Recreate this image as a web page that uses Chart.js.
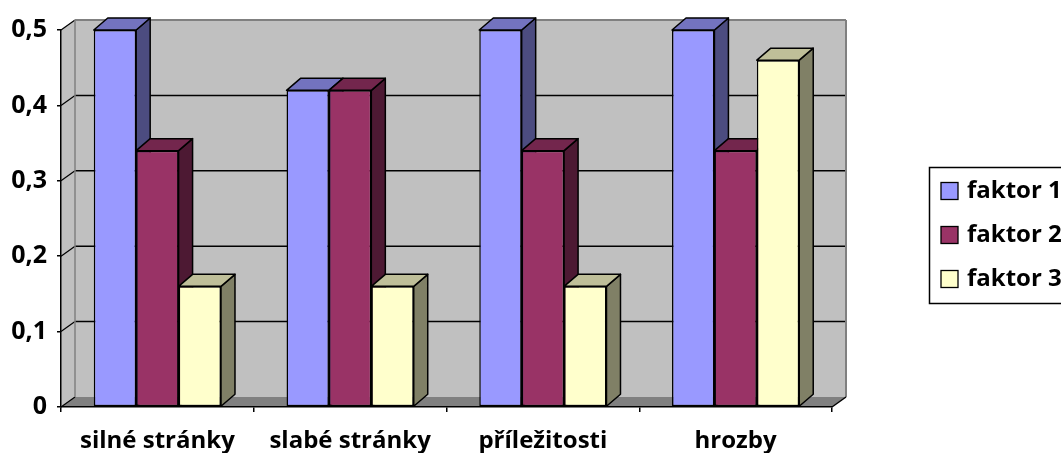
<!DOCTYPE html>
<html>
<head>
<meta charset="utf-8">
<script src="https://cdn.jsdelivr.net/npm/chart.js@4/dist/chart.umd.min.js"></script>
<style>
  html, body { margin: 0; padding: 0; background: #fff; }
  canvas { display: block; }
</style>
</head>
<body>
<canvas id="swotChart" width="1061" height="453"></canvas>
<script>
// hodnoty faktorů pro jednotlivé části SWOT
var categories = ['silné stránky', 'slabé stránky', 'příležitosti', 'hrozby'];
var seriesNames = ['faktor 1', 'faktor 2', 'faktor 3'];
var faktor1 = [0.5, 0.42, 0.5, 0.5];
var faktor2 = [0.34, 0.42, 0.34, 0.34];
var faktor3 = [0.16, 0.16, 0.16, 0.46];
var yTickLabels = ['0', '0,1', '0,2', '0,3', '0,4', '0,5'];

var FONT = '"Open Sans", Lato, Calibri, sans-serif';

// barvy: přední stěna, horní stěna, boční stěna
var shades = [
  { front: '#9999ff', top: '#7373bf', side: '#4c4c80' },
  { front: '#993366', top: '#73264d', side: '#4d1933' },
  { front: '#ffffcc', top: '#bfbf99', side: '#808066' }
];

// hloubka sloupců a stěn (3D efekt)
var BAR_DX = 14, BAR_DY = 12;
var WALL_DX = 14, WALL_DY = 10;

function poly(ctx, pts, fill, stroke, lw) {
  ctx.beginPath();
  ctx.moveTo(pts[0][0], pts[0][1]);
  for (var i = 1; i < pts.length; i++) ctx.lineTo(pts[i][0], pts[i][1]);
  ctx.closePath();
  if (fill) { ctx.fillStyle = fill; ctx.fill(); }
  if (stroke) { ctx.strokeStyle = stroke; ctx.lineWidth = lw || 1; ctx.stroke(); }
}

function line(ctx, x1, y1, x2, y2, color, lw) {
  ctx.beginPath();
  ctx.moveTo(x1, y1);
  ctx.lineTo(x2, y2);
  ctx.strokeStyle = color;
  ctx.lineWidth = lw;
  ctx.stroke();
}

var box3d = {
  id: 'box3d',
  beforeDraw: function (chart) {
    var ctx = chart.ctx, a = chart.chartArea, ys = chart.scales.y;
    var L = a.left, R = a.right, T = a.top, B = a.bottom;
    ctx.save();
    // zadní stěna
    ctx.fillStyle = '#c0c0c0';
    ctx.fillRect(L + WALL_DX, T - WALL_DY, R - L, B - T);
    // levá stěna
    poly(ctx, [[L, T], [L + WALL_DX, T - WALL_DY], [L + WALL_DX, B - WALL_DY], [L, B]], '#c0c0c0');
    // podlaha
    poly(ctx, [[L, B], [R, B], [R + WALL_DX, B - WALL_DY], [L + WALL_DX, B - WALL_DY]], '#808080');
    // mřížka na stěnách
    ys.ticks.forEach(function (t) {
      var py = ys.getPixelForValue(t.value);
      if (t.value > 0 && t.value < ys.max) {
        line(ctx, L + WALL_DX, py - WALL_DY, R + WALL_DX, py - WALL_DY, '#000', 1.5);
      }
      line(ctx, L, py, L + WALL_DX, py - WALL_DY, '#000', 1.2);
    });
    // okraje stěn
    line(ctx, L + WALL_DX, T - WALL_DY, R + WALL_DX, T - WALL_DY, '#808080', 2);
    line(ctx, R + WALL_DX, T - WALL_DY, R + WALL_DX, B - WALL_DY, '#808080', 2);
    line(ctx, L + WALL_DX, T - WALL_DY, L + WALL_DX, B - WALL_DY, '#808080', 1.5);
    line(ctx, R, B, R + WALL_DX, B - WALL_DY, '#000', 1.5);
    ctx.restore();
  },
  beforeDatasetsDraw: function (chart) {
    var ctx = chart.ctx;
    ctx.save();
    ctx.lineJoin = 'round';
    var n = chart.data.labels.length;
    for (var i = 0; i < n; i++) {
      chart.data.datasets.forEach(function (ds, d) {
        var bar = chart.getDatasetMeta(d).data[i];
        var p = bar.getProps(['x', 'y', 'base', 'width'], true);
        var left = p.x - p.width / 2, right = p.x + p.width / 2;
        var top = p.y, base = p.base;
        var c = shades[d];
        // boční stěna
        poly(ctx, [[right, top], [right + BAR_DX, top - BAR_DY], [right + BAR_DX, base - BAR_DY], [right, base]],
          c.side, '#000', 1.5);
        // horní stěna
        poly(ctx, [[left, top], [right, top], [right + BAR_DX, top - BAR_DY], [left + BAR_DX, top - BAR_DY]],
          c.top, '#000', 1.5);
      });
    }
    ctx.restore();
  },
  afterDraw: function (chart) {
    // legenda vpravo
    var ctx = chart.ctx;
    ctx.save();
    ctx.strokeStyle = '#000';
    ctx.lineWidth = 1.5;
    ctx.strokeRect(929.5, 167.5, 160, 136);
    ctx.font = 'bold 24px ' + FONT;
    ctx.textBaseline = 'middle';
    ctx.textAlign = 'left';
    var rows = [191, 235, 279];
    chart.data.datasets.forEach(function (ds, d) {
      var cy = rows[d];
      ctx.fillStyle = ds.backgroundColor;
      ctx.fillRect(941, cy - 8.5, 17, 17);
      ctx.lineWidth = 1.3;
      ctx.strokeRect(941, cy - 8.5, 17, 17);
      ctx.fillStyle = '#000';
      ctx.fillText(ds.label, 967, cy);
    });
    ctx.restore();
  }
};

var seriesValues = [faktor1, faktor2, faktor3];

new Chart(document.getElementById('swotChart').getContext('2d'), {
  type: 'bar',
  data: {
    labels: categories,
    datasets: seriesValues.map(function (vals, d) {
      return {
        label: seriesNames[d],
        data: vals,
        backgroundColor: shades[d].front,
        borderColor: '#000',
        borderWidth: 1.5,
        borderSkipped: false,
        categoryPercentage: 0.66,
        barPercentage: 1.0
      };
    })
  },
  options: {
    responsive: false,
    animation: false,
    devicePixelRatio: 1,
    layout: { padding: { left: 0, top: 30, right: 229, bottom: 0 } },
    plugins: {
      legend: { display: false },
      tooltip: { enabled: false }
    },
    scales: {
      x: {
        afterFit: function (s) { s.height = 46; },
        grid: { display: true, drawOnChartArea: false, drawTicks: true, tickLength: 5, color: '#000', lineWidth: 1.5 },
        border: { display: true, color: '#000', width: 1.5 },
        ticks: { color: '#000', font: { family: FONT, size: 24, weight: 'bold' }, padding: 15, maxRotation: 0 }
      },
      y: {
        min: 0,
        max: 0.5,
        afterFit: function (s) { s.width = 61; },
        grid: { display: true, drawOnChartArea: false, drawTicks: true, tickLength: 4, color: '#000', lineWidth: 1.5 },
        border: { display: true, color: '#000', width: 1.5 },
        ticks: {
          stepSize: 0.1,
          color: '#000',
          padding: 10,
          font: { family: FONT, size: 25, weight: 'bold' },
          callback: function (v, i) { return yTickLabels[i]; }
        }
      }
    }
  },
  plugins: [box3d]
});
</script>
</body>
</html>
